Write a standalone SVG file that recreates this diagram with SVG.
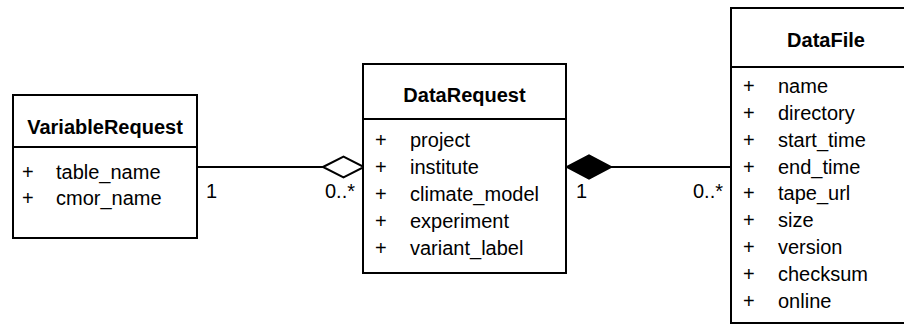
<svg xmlns="http://www.w3.org/2000/svg" width="904" height="325" viewBox="0 0 904 325">
<style>
.box{fill:#fff;stroke:#000;stroke-width:2}
.ln{fill:none;stroke:#000;stroke-width:2}
text{font-family:"Liberation Sans",Arial,sans-serif;font-size:20px;fill:#000}
.t{font-weight:bold;text-anchor:middle}
</style>
<rect width="904" height="325" fill="#fff"/>
<g id="connectors">
<path class="ln" d="M197 167 H323"/>
<path d="M323 167 L343.5 156.5 L364 167 L343.5 177.5 Z" fill="#fff" stroke="#000" stroke-width="2"/>
<text x="206" y="198">1</text>
<text x="325" y="198">0..*</text>
<path class="ln" d="M611 167 H731"/>
<path d="M567 167 L589 155.5 L611 167 L589 178.5 Z" fill="#000" stroke="#000" stroke-width="2"/>
<text x="576" y="198">1</text>
<text x="693" y="198">0..*</text>
</g>
<g id="VariableRequest">
<rect class="box" x="13" y="95" width="184" height="143"/>
<path class="ln" d="M13 147 H197"/>
<text class="t" x="105" y="134">VariableRequest</text>
<text x="22" y="179">+</text><text x="56" y="179">table_name</text>
<text x="22" y="205">+</text><text x="56" y="205">cmor_name</text>
</g>
<g id="DataRequest">
<rect class="box" x="363" y="64" width="203" height="209"/>
<path class="ln" d="M363 119 H566"/>
<text class="t" x="464.5" y="102">DataRequest</text>
<text x="375" y="147">+</text><text x="410" y="147">project</text>
<text x="375" y="174">+</text><text x="410" y="174">institute</text>
<text x="375" y="201">+</text><text x="410" y="201">climate_model</text>
<text x="375" y="228">+</text><text x="410" y="228">experiment</text>
<text x="375" y="255">+</text><text x="410" y="255">variant_label</text>
</g>
<g id="DataFile">
<rect class="box" x="731" y="8" width="190" height="315"/>
<path class="ln" d="M731 67 H921"/>
<text class="t" x="826" y="47">DataFile</text>
<text x="743" y="93">+</text><text x="778" y="93">name</text>
<text x="743" y="120">+</text><text x="778" y="120">directory</text>
<text x="743" y="147">+</text><text x="778" y="147">start_time</text>
<text x="743" y="174">+</text><text x="778" y="174">end_time</text>
<text x="743" y="200">+</text><text x="778" y="200">tape_url</text>
<text x="743" y="227">+</text><text x="778" y="227">size</text>
<text x="743" y="254">+</text><text x="778" y="254">version</text>
<text x="743" y="281">+</text><text x="778" y="281">checksum</text>
<text x="743" y="308">+</text><text x="778" y="308">online</text>
</g>
</svg>
